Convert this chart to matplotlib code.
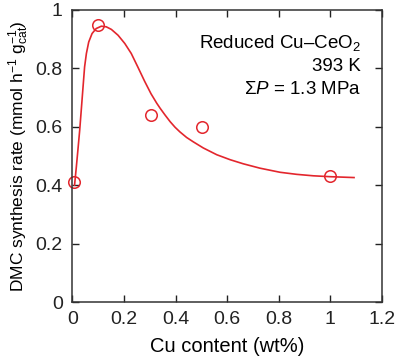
import matplotlib
matplotlib.use("Agg")
import matplotlib.pyplot as plt

# measured points (open circles)
cu_content = [0.005, 0.1, 0.303, 0.503, 1.0]
dmc_rate = [0.412, 0.948, 0.638, 0.597, 0.430]

# fitted curve
curve_x = [0.008, 0.015, 0.021, 0.028, 0.034, 0.041, 0.047, 0.054, 0.063, 0.076,
           0.092, 0.112, 0.131, 0.151, 0.177, 0.203, 0.228, 0.254, 0.280, 0.305,
           0.327, 0.340, 0.359, 0.379, 0.398, 0.417, 0.443, 0.469, 0.508, 0.560,
           0.612, 0.663, 0.728, 0.806, 0.870, 0.935, 1.000, 1.093]
curve_y = [0.400, 0.463, 0.520, 0.588, 0.656, 0.736, 0.804, 0.850, 0.889, 0.918,
           0.935, 0.943, 0.941, 0.932, 0.912, 0.884, 0.850, 0.803, 0.755, 0.712,
           0.680, 0.663, 0.640, 0.617, 0.598, 0.582, 0.563, 0.548, 0.527, 0.504,
           0.487, 0.473, 0.458, 0.444, 0.437, 0.432, 0.429, 0.426]

x_ticks = [0, 0.2, 0.4, 0.6, 0.8, 1, 1.2]
x_tick_labels = ["0", "0.2", "0.4", "0.6", "0.8", "1", "1.2"]
y_ticks = [0, 0.2, 0.4, 0.6, 0.8, 1]
y_tick_labels = ["0", "0.2", "0.4", "0.6", "0.8", "1"]

condicoes = ["Reduced Cu\u2013CeO$_2$", "393 K", "$\\Sigma\\mathit{P}$ = 1.3 MPa"]

plt.rcParams["font.family"] = ["Liberation Sans", "DejaVu Sans"]
plt.rcParams["mathtext.fontset"] = "custom"
plt.rcParams["mathtext.rm"] = "Liberation Sans"
plt.rcParams["mathtext.it"] = "Liberation Sans:italic"

vermelho = "#e3262d"

fig = plt.figure(figsize=(3.97, 3.59), dpi=100)
ax = fig.add_axes([0.1826, 0.158, 0.7786, 0.8155])

ax.plot(curve_x, curve_y, color=vermelho, lw=1.2, solid_joinstyle="round")
ax.plot(cu_content, dmc_rate, "o", mfc="none", mec=vermelho, mew=1.1, ms=8.3, clip_on=False)

ax.set_xlim(0, 1.2)
ax.set_ylim(0, 1)
ax.set_xticks(x_ticks)
ax.set_xticklabels(x_tick_labels)
ax.set_yticks(y_ticks)
ax.set_yticklabels(y_tick_labels)
ax.tick_params(direction="in", length=5, width=1, top=True, right=True,
               labelsize=14, colors="#222222")
ax.tick_params(axis="x", pad=6)
ax.tick_params(axis="y", pad=7)
for s in ax.spines.values():
    s.set_linewidth(1.1)
    s.set_color("#333333")

ax.set_xlabel("Cu content (wt%)", fontsize=14.5, labelpad=7)
ax.set_ylabel("DMC synthesis rate (mmol h$^{-1}$ g$_{\\mathrm{cat}}^{-1}$)",
              fontsize=12.5, labelpad=3)

# condicoes da reacao no canto superior direito
for i, linha in enumerate(condicoes):
    ax.text(1.12, 0.87 - i * 0.079, linha, ha="right", va="baseline", fontsize=13.5)

fig.savefig("out.png", dpi=100)
